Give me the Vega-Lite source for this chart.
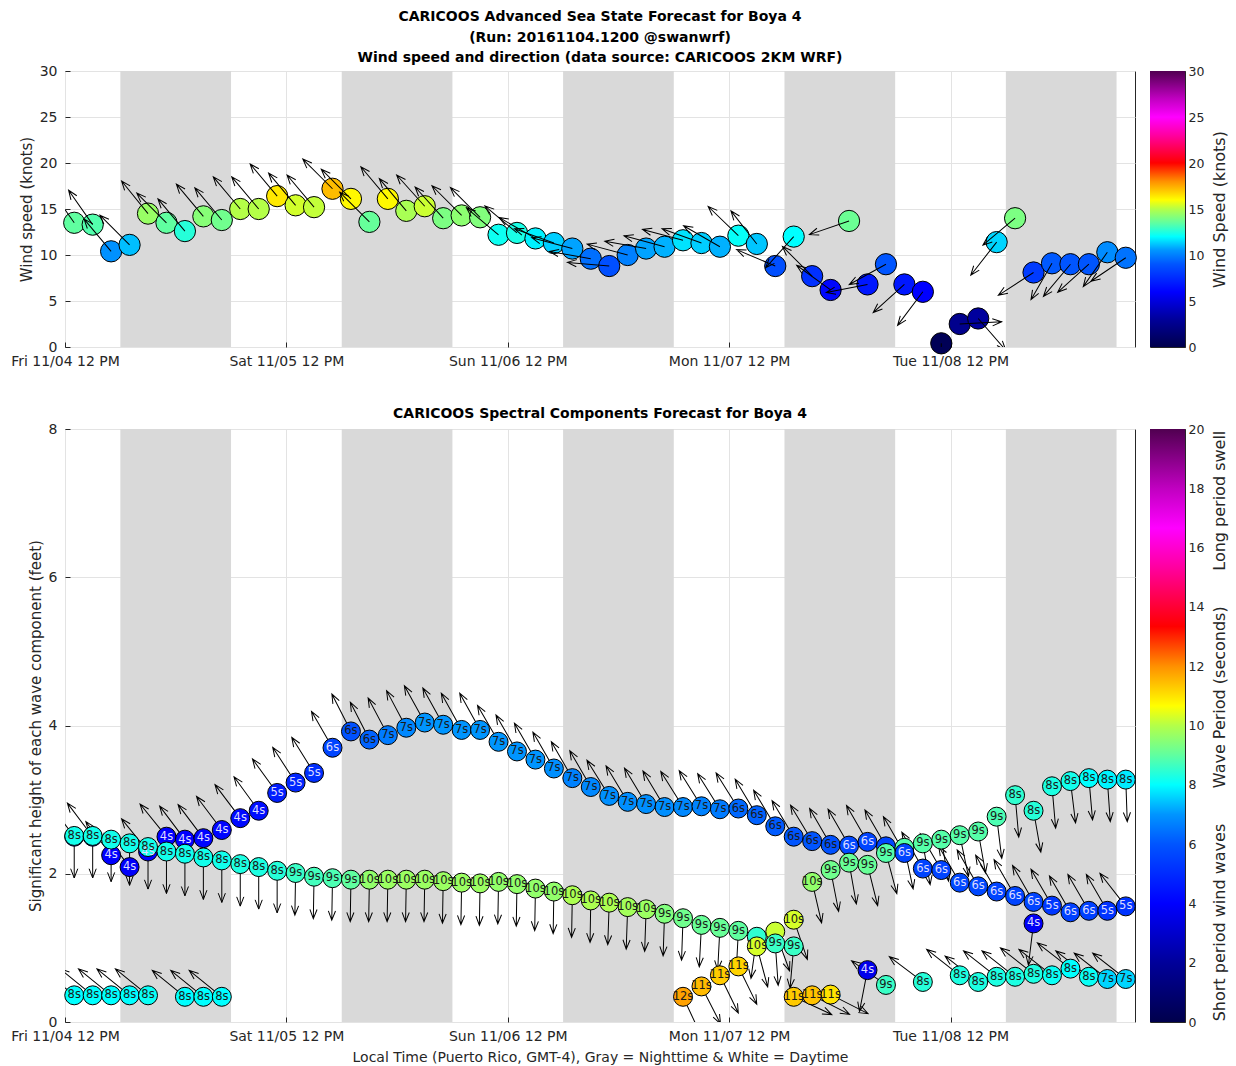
{
  "$schema": "https://vega.github.io/schema/vega-lite/v6.json",
  "background": "white",
  "padding": {"left": 10, "top": 9, "right": 2, "bottom": 2},
  "config": {
    "font": "DejaVu Sans",
    "view": {"stroke": "#262626", "strokeWidth": 1},
    "axis": {"labelFontSize": 14, "labelColor": "#262626", "titleFontSize": 15, "titleFontWeight": "normal", "titleColor": "#262626", "gridColor": "#e3e3e3", "gridWidth": 1, "domain": false, "tickColor": "#262626", "ticks": true, "tickSize": -5, "labelPadding": 13, "titlePadding": 5},
    "title": {"fontSize": 14, "fontWeight": "bold", "color": "#000000", "anchor": "middle", "frame": "group"}
  },
  "datasets": {
    "night": [
      {"t": "2016-11-04T18:00Z", "t2": "2016-11-05T06:00Z"},
      {"t": "2016-11-05T18:00Z", "t2": "2016-11-06T06:00Z"},
      {"t": "2016-11-06T18:00Z", "t2": "2016-11-07T06:00Z"},
      {"t": "2016-11-07T18:00Z", "t2": "2016-11-08T06:00Z"},
      {"t": "2016-11-08T18:00Z", "t2": "2016-11-09T06:00Z"}
    ],
    "wind": [
      {"t": "2016-11-04T13:00Z", "spd": 13.5, "dir": 325},
      {"t": "2016-11-04T15:00Z", "spd": 13.3, "dir": 325},
      {"t": "2016-11-04T17:00Z", "spd": 10.4, "dir": 320},
      {"t": "2016-11-04T19:00Z", "spd": 11.1, "dir": 315},
      {"t": "2016-11-04T21:00Z", "spd": 14.5, "dir": 321},
      {"t": "2016-11-04T23:00Z", "spd": 13.5, "dir": 315},
      {"t": "2016-11-05T01:00Z", "spd": 12.6, "dir": 320},
      {"t": "2016-11-05T03:00Z", "spd": 14.2, "dir": 320},
      {"t": "2016-11-05T05:00Z", "spd": 13.8, "dir": 320},
      {"t": "2016-11-05T07:00Z", "spd": 15.0, "dir": 320},
      {"t": "2016-11-05T09:00Z", "spd": 15.0, "dir": 320},
      {"t": "2016-11-05T11:00Z", "spd": 16.4, "dir": 320},
      {"t": "2016-11-05T13:00Z", "spd": 15.4, "dir": 320},
      {"t": "2016-11-05T15:00Z", "spd": 15.2, "dir": 320},
      {"t": "2016-11-05T17:00Z", "spd": 17.2, "dir": 315},
      {"t": "2016-11-05T19:00Z", "spd": 16.1, "dir": 315},
      {"t": "2016-11-05T21:00Z", "spd": 13.6, "dir": 315},
      {"t": "2016-11-05T23:00Z", "spd": 16.1, "dir": 320},
      {"t": "2016-11-06T01:00Z", "spd": 14.8, "dir": 320},
      {"t": "2016-11-06T03:00Z", "spd": 15.3, "dir": 318},
      {"t": "2016-11-06T05:00Z", "spd": 14.0, "dir": 318},
      {"t": "2016-11-06T07:00Z", "spd": 14.3, "dir": 315},
      {"t": "2016-11-06T09:00Z", "spd": 14.1, "dir": 315},
      {"t": "2016-11-06T11:00Z", "spd": 12.2, "dir": 310},
      {"t": "2016-11-06T13:00Z", "spd": 12.4, "dir": 310},
      {"t": "2016-11-06T15:00Z", "spd": 11.8, "dir": 300},
      {"t": "2016-11-06T17:00Z", "spd": 11.3, "dir": 290},
      {"t": "2016-11-06T19:00Z", "spd": 10.7, "dir": 285},
      {"t": "2016-11-06T21:00Z", "spd": 9.6, "dir": 280},
      {"t": "2016-11-06T23:00Z", "spd": 8.8, "dir": 275},
      {"t": "2016-11-07T01:00Z", "spd": 10.0, "dir": 285},
      {"t": "2016-11-07T03:00Z", "spd": 10.7, "dir": 280},
      {"t": "2016-11-07T05:00Z", "spd": 10.9, "dir": 285},
      {"t": "2016-11-07T07:00Z", "spd": 11.6, "dir": 285},
      {"t": "2016-11-07T09:00Z", "spd": 11.3, "dir": 290},
      {"t": "2016-11-07T11:00Z", "spd": 10.9, "dir": 300},
      {"t": "2016-11-07T13:00Z", "spd": 12.1, "dir": 314},
      {"t": "2016-11-07T15:00Z", "spd": 11.2, "dir": 322},
      {"t": "2016-11-07T17:00Z", "spd": 8.8, "dir": 293},
      {"t": "2016-11-07T19:00Z", "spd": 12.0, "dir": 222},
      {"t": "2016-11-07T21:00Z", "spd": 7.7, "dir": 315},
      {"t": "2016-11-07T23:00Z", "spd": 6.2, "dir": 306},
      {"t": "2016-11-08T01:00Z", "spd": 13.7, "dir": 251},
      {"t": "2016-11-08T03:00Z", "spd": 6.8, "dir": 259},
      {"t": "2016-11-08T05:00Z", "spd": 9.0, "dir": 241},
      {"t": "2016-11-08T07:00Z", "spd": 6.8, "dir": 228},
      {"t": "2016-11-08T09:00Z", "spd": 6.0, "dir": 217},
      {"t": "2016-11-08T11:00Z", "spd": 0.4, "dir": 180},
      {"t": "2016-11-08T13:00Z", "spd": 2.5, "dir": 87},
      {"t": "2016-11-08T15:00Z", "spd": 3.1, "dir": 139},
      {"t": "2016-11-08T17:00Z", "spd": 11.4, "dir": 218},
      {"t": "2016-11-08T19:00Z", "spd": 14.0, "dir": 230},
      {"t": "2016-11-08T21:00Z", "spd": 8.1, "dir": 237},
      {"t": "2016-11-08T23:00Z", "spd": 9.1, "dir": 210},
      {"t": "2016-11-09T01:00Z", "spd": 9.0, "dir": 220},
      {"t": "2016-11-09T03:00Z", "spd": 9.0, "dir": 228},
      {"t": "2016-11-09T05:00Z", "spd": 10.3, "dir": 215},
      {"t": "2016-11-09T07:00Z", "spd": 9.7, "dir": 236}
    ],
    "wave": [
      {"t": "2016-11-04T13:00Z", "h": 2.50, "per": 4.0, "lbl": "", "dir": 323},
      {"t": "2016-11-04T13:00Z", "h": 2.51, "per": 8.2, "lbl": "8s", "dir": 180},
      {"t": "2016-11-04T13:00Z", "h": 0.36, "per": 8.0, "lbl": "8s", "dir": 309},
      {"t": "2016-11-04T15:00Z", "h": 2.50, "per": 4.0, "lbl": "", "dir": 323},
      {"t": "2016-11-04T15:00Z", "h": 2.51, "per": 8.2, "lbl": "8s", "dir": 180},
      {"t": "2016-11-04T15:00Z", "h": 0.36, "per": 8.0, "lbl": "8s", "dir": 309},
      {"t": "2016-11-04T17:00Z", "h": 2.25, "per": 4.0, "lbl": "4s", "dir": 323},
      {"t": "2016-11-04T17:00Z", "h": 2.46, "per": 8.2, "lbl": "8s", "dir": 180},
      {"t": "2016-11-04T17:00Z", "h": 0.36, "per": 8.0, "lbl": "8s", "dir": 309},
      {"t": "2016-11-04T19:00Z", "h": 2.09, "per": 3.9, "lbl": "4s", "dir": 323},
      {"t": "2016-11-04T19:00Z", "h": 2.41, "per": 8.2, "lbl": "8s", "dir": 180},
      {"t": "2016-11-04T19:00Z", "h": 0.36, "per": 8.0, "lbl": "8s", "dir": 309},
      {"t": "2016-11-04T21:00Z", "h": 2.30, "per": 4.0, "lbl": "4s", "dir": 321},
      {"t": "2016-11-04T21:00Z", "h": 2.36, "per": 8.2, "lbl": "8s", "dir": 180},
      {"t": "2016-11-04T21:00Z", "h": 0.36, "per": 8.1, "lbl": "8s", "dir": 309},
      {"t": "2016-11-04T23:00Z", "h": 2.50, "per": 4.0, "lbl": "4s", "dir": 321},
      {"t": "2016-11-04T23:00Z", "h": 2.30, "per": 8.2, "lbl": "8s", "dir": 180},
      {"t": "2016-11-05T01:00Z", "h": 2.46, "per": 4.0, "lbl": "4s", "dir": 323},
      {"t": "2016-11-05T01:00Z", "h": 2.27, "per": 8.2, "lbl": "8s", "dir": 180},
      {"t": "2016-11-05T01:00Z", "h": 0.34, "per": 8.0, "lbl": "8s", "dir": 309},
      {"t": "2016-11-05T03:00Z", "h": 2.48, "per": 4.1, "lbl": "4s", "dir": 323},
      {"t": "2016-11-05T03:00Z", "h": 2.22, "per": 8.2, "lbl": "8s", "dir": 180},
      {"t": "2016-11-05T03:00Z", "h": 0.34, "per": 8.0, "lbl": "8s", "dir": 309},
      {"t": "2016-11-05T05:00Z", "h": 2.59, "per": 4.1, "lbl": "4s", "dir": 323},
      {"t": "2016-11-05T05:00Z", "h": 2.18, "per": 8.2, "lbl": "8s", "dir": 180},
      {"t": "2016-11-05T05:00Z", "h": 0.34, "per": 8.0, "lbl": "8s", "dir": 309},
      {"t": "2016-11-05T07:00Z", "h": 2.75, "per": 4.2, "lbl": "4s", "dir": 323},
      {"t": "2016-11-05T07:00Z", "h": 2.13, "per": 8.3, "lbl": "8s", "dir": 180},
      {"t": "2016-11-05T09:00Z", "h": 2.85, "per": 4.3, "lbl": "4s", "dir": 324},
      {"t": "2016-11-05T09:00Z", "h": 2.09, "per": 8.3, "lbl": "8s", "dir": 180},
      {"t": "2016-11-05T11:00Z", "h": 3.09, "per": 4.7, "lbl": "5s", "dir": 324},
      {"t": "2016-11-05T11:00Z", "h": 2.04, "per": 8.4, "lbl": "8s", "dir": 180},
      {"t": "2016-11-05T13:00Z", "h": 3.23, "per": 4.9, "lbl": "5s", "dir": 327},
      {"t": "2016-11-05T13:00Z", "h": 2.01, "per": 8.6, "lbl": "9s", "dir": 181},
      {"t": "2016-11-05T15:00Z", "h": 3.36, "per": 5.1, "lbl": "5s", "dir": 328},
      {"t": "2016-11-05T15:00Z", "h": 1.96, "per": 8.7, "lbl": "9s", "dir": 181},
      {"t": "2016-11-05T17:00Z", "h": 3.70, "per": 5.6, "lbl": "6s", "dir": 330},
      {"t": "2016-11-05T17:00Z", "h": 1.94, "per": 8.8, "lbl": "9s", "dir": 181},
      {"t": "2016-11-05T19:00Z", "h": 3.92, "per": 5.9, "lbl": "6s", "dir": 333},
      {"t": "2016-11-05T19:00Z", "h": 1.92, "per": 9.0, "lbl": "9s", "dir": 181},
      {"t": "2016-11-05T21:00Z", "h": 3.81, "per": 6.2, "lbl": "6s", "dir": 333},
      {"t": "2016-11-05T21:00Z", "h": 1.92, "per": 9.6, "lbl": "10s", "dir": 181},
      {"t": "2016-11-05T23:00Z", "h": 3.87, "per": 6.6, "lbl": "7s", "dir": 332},
      {"t": "2016-11-05T23:00Z", "h": 1.92, "per": 9.7, "lbl": "10s", "dir": 181},
      {"t": "2016-11-06T01:00Z", "h": 3.97, "per": 6.8, "lbl": "7s", "dir": 332},
      {"t": "2016-11-06T01:00Z", "h": 1.92, "per": 9.7, "lbl": "10s", "dir": 181},
      {"t": "2016-11-06T03:00Z", "h": 4.04, "per": 7.0, "lbl": "7s", "dir": 331},
      {"t": "2016-11-06T03:00Z", "h": 1.92, "per": 9.7, "lbl": "10s", "dir": 181},
      {"t": "2016-11-06T05:00Z", "h": 4.01, "per": 7.0, "lbl": "7s", "dir": 331},
      {"t": "2016-11-06T05:00Z", "h": 1.90, "per": 9.7, "lbl": "10s", "dir": 181},
      {"t": "2016-11-06T07:00Z", "h": 3.94, "per": 7.0, "lbl": "7s", "dir": 331},
      {"t": "2016-11-06T07:00Z", "h": 1.88, "per": 9.7, "lbl": "10s", "dir": 181},
      {"t": "2016-11-06T09:00Z", "h": 3.94, "per": 7.0, "lbl": "7s", "dir": 331},
      {"t": "2016-11-06T09:00Z", "h": 1.87, "per": 9.7, "lbl": "10s", "dir": 181},
      {"t": "2016-11-06T11:00Z", "h": 3.78, "per": 7.0, "lbl": "7s", "dir": 330},
      {"t": "2016-11-06T11:00Z", "h": 1.89, "per": 9.6, "lbl": "10s", "dir": 181},
      {"t": "2016-11-06T13:00Z", "h": 3.65, "per": 7.0, "lbl": "7s", "dir": 330},
      {"t": "2016-11-06T13:00Z", "h": 1.86, "per": 9.6, "lbl": "10s", "dir": 181},
      {"t": "2016-11-06T15:00Z", "h": 3.54, "per": 7.0, "lbl": "7s", "dir": 330},
      {"t": "2016-11-06T15:00Z", "h": 1.80, "per": 9.6, "lbl": "10s", "dir": 181},
      {"t": "2016-11-06T17:00Z", "h": 3.42, "per": 6.9, "lbl": "7s", "dir": 330},
      {"t": "2016-11-06T17:00Z", "h": 1.76, "per": 9.6, "lbl": "10s", "dir": 181},
      {"t": "2016-11-06T19:00Z", "h": 3.29, "per": 6.7, "lbl": "7s", "dir": 330},
      {"t": "2016-11-06T19:00Z", "h": 1.71, "per": 9.9, "lbl": "10s", "dir": 181},
      {"t": "2016-11-06T21:00Z", "h": 3.17, "per": 6.8, "lbl": "7s", "dir": 330},
      {"t": "2016-11-06T21:00Z", "h": 1.64, "per": 9.9, "lbl": "10s", "dir": 181},
      {"t": "2016-11-06T23:00Z", "h": 3.05, "per": 6.9, "lbl": "7s", "dir": 328},
      {"t": "2016-11-06T23:00Z", "h": 1.61, "per": 9.9, "lbl": "10s", "dir": 182},
      {"t": "2016-11-07T01:00Z", "h": 2.97, "per": 6.9, "lbl": "7s", "dir": 329},
      {"t": "2016-11-07T01:00Z", "h": 1.55, "per": 9.8, "lbl": "10s", "dir": 182},
      {"t": "2016-11-07T03:00Z", "h": 2.94, "per": 6.9, "lbl": "7s", "dir": 329},
      {"t": "2016-11-07T03:00Z", "h": 1.52, "per": 9.7, "lbl": "10s", "dir": 182},
      {"t": "2016-11-07T05:00Z", "h": 2.90, "per": 6.9, "lbl": "7s", "dir": 329},
      {"t": "2016-11-07T05:00Z", "h": 1.46, "per": 9.4, "lbl": "9s", "dir": 182},
      {"t": "2016-11-07T07:00Z", "h": 2.90, "per": 6.8, "lbl": "7s", "dir": 328},
      {"t": "2016-11-07T07:00Z", "h": 1.40, "per": 9.2, "lbl": "9s", "dir": 182},
      {"t": "2016-11-07T07:00Z", "h": 0.34, "per": 11.8, "lbl": "12s", "dir": 155},
      {"t": "2016-11-07T09:00Z", "h": 2.91, "per": 6.7, "lbl": "7s", "dir": 328},
      {"t": "2016-11-07T09:00Z", "h": 1.31, "per": 9.1, "lbl": "9s", "dir": 183},
      {"t": "2016-11-07T09:00Z", "h": 0.48, "per": 11.5, "lbl": "11s", "dir": 153},
      {"t": "2016-11-07T11:00Z", "h": 2.87, "per": 6.6, "lbl": "7s", "dir": 328},
      {"t": "2016-11-07T11:00Z", "h": 1.27, "per": 9.1, "lbl": "9s", "dir": 183},
      {"t": "2016-11-07T11:00Z", "h": 0.63, "per": 11.3, "lbl": "11s", "dir": 154},
      {"t": "2016-11-07T13:00Z", "h": 2.88, "per": 6.3, "lbl": "6s", "dir": 328},
      {"t": "2016-11-07T13:00Z", "h": 1.23, "per": 9.0, "lbl": "9s", "dir": 183},
      {"t": "2016-11-07T13:00Z", "h": 0.75, "per": 11.2, "lbl": "11s", "dir": 154},
      {"t": "2016-11-07T15:00Z", "h": 2.79, "per": 6.2, "lbl": "6s", "dir": 329},
      {"t": "2016-11-07T15:00Z", "h": 1.15, "per": 8.5, "lbl": "", "dir": 188},
      {"t": "2016-11-07T15:00Z", "h": 1.02, "per": 10.3, "lbl": "10s", "dir": 165},
      {"t": "2016-11-07T17:00Z", "h": 2.64, "per": 6.1, "lbl": "6s", "dir": 329},
      {"t": "2016-11-07T17:00Z", "h": 1.22, "per": 10.2, "lbl": "", "dir": 160},
      {"t": "2016-11-07T17:00Z", "h": 1.06, "per": 8.6, "lbl": "9s", "dir": 176},
      {"t": "2016-11-07T19:00Z", "h": 2.50, "per": 6.0, "lbl": "6s", "dir": 329},
      {"t": "2016-11-07T19:00Z", "h": 1.02, "per": 8.6, "lbl": "9s", "dir": 185},
      {"t": "2016-11-07T19:00Z", "h": 1.38, "per": 10.3, "lbl": "10s", "dir": 161},
      {"t": "2016-11-07T19:00Z", "h": 0.34, "per": 11.3, "lbl": "11s", "dir": 115},
      {"t": "2016-11-07T21:00Z", "h": 2.44, "per": 6.0, "lbl": "6s", "dir": 329},
      {"t": "2016-11-07T21:00Z", "h": 1.89, "per": 9.6, "lbl": "10s", "dir": 167},
      {"t": "2016-11-07T21:00Z", "h": 0.36, "per": 11.4, "lbl": "11s", "dir": 117},
      {"t": "2016-11-07T23:00Z", "h": 2.39, "per": 5.9, "lbl": "6s", "dir": 330},
      {"t": "2016-11-07T23:00Z", "h": 2.05, "per": 9.2, "lbl": "9s", "dir": 169},
      {"t": "2016-11-07T23:00Z", "h": 0.37, "per": 11.0, "lbl": "11s", "dir": 117},
      {"t": "2016-11-08T01:00Z", "h": 2.38, "per": 5.7, "lbl": "6s", "dir": 330},
      {"t": "2016-11-08T01:00Z", "h": 2.15, "per": 9.1, "lbl": "9s", "dir": 170},
      {"t": "2016-11-08T03:00Z", "h": 2.43, "per": 5.6, "lbl": "6s", "dir": 330},
      {"t": "2016-11-08T03:00Z", "h": 2.12, "per": 9.1, "lbl": "9s", "dir": 166},
      {"t": "2016-11-08T03:00Z", "h": 0.70, "per": 3.6, "lbl": "4s", "dir": 191},
      {"t": "2016-11-08T05:00Z", "h": 2.37, "per": 5.6, "lbl": "", "dir": 330},
      {"t": "2016-11-08T05:00Z", "h": 2.28, "per": 8.9, "lbl": "9s", "dir": 165},
      {"t": "2016-11-08T05:00Z", "h": 0.50, "per": 8.6, "lbl": "9s", "dir": 305},
      {"t": "2016-11-08T07:00Z", "h": 2.35, "per": 8.9, "lbl": "", "dir": 168},
      {"t": "2016-11-08T07:00Z", "h": 2.28, "per": 5.6, "lbl": "6s", "dir": 330},
      {"t": "2016-11-08T09:00Z", "h": 2.07, "per": 5.6, "lbl": "6s", "dir": 330},
      {"t": "2016-11-08T09:00Z", "h": 2.41, "per": 8.9, "lbl": "9s", "dir": 170},
      {"t": "2016-11-08T09:00Z", "h": 0.54, "per": 8.4, "lbl": "8s", "dir": 307},
      {"t": "2016-11-08T11:00Z", "h": 2.05, "per": 5.6, "lbl": "6s", "dir": 330},
      {"t": "2016-11-08T11:00Z", "h": 2.46, "per": 8.9, "lbl": "9s", "dir": 170},
      {"t": "2016-11-08T13:00Z", "h": 1.88, "per": 5.7, "lbl": "6s", "dir": 330},
      {"t": "2016-11-08T13:00Z", "h": 2.52, "per": 8.9, "lbl": "9s", "dir": 168},
      {"t": "2016-11-08T13:00Z", "h": 0.63, "per": 8.3, "lbl": "8s", "dir": 308},
      {"t": "2016-11-08T15:00Z", "h": 1.83, "per": 5.7, "lbl": "6s", "dir": 330},
      {"t": "2016-11-08T15:00Z", "h": 2.57, "per": 8.9, "lbl": "9s", "dir": 170},
      {"t": "2016-11-08T15:00Z", "h": 0.54, "per": 8.3, "lbl": "8s", "dir": 308},
      {"t": "2016-11-08T17:00Z", "h": 1.76, "per": 5.6, "lbl": "6s", "dir": 330},
      {"t": "2016-11-08T17:00Z", "h": 2.77, "per": 8.8, "lbl": "9s", "dir": 173},
      {"t": "2016-11-08T17:00Z", "h": 0.61, "per": 8.3, "lbl": "8s", "dir": 308},
      {"t": "2016-11-08T19:00Z", "h": 1.70, "per": 5.6, "lbl": "6s", "dir": 330},
      {"t": "2016-11-08T19:00Z", "h": 3.06, "per": 8.5, "lbl": "8s", "dir": 175},
      {"t": "2016-11-08T19:00Z", "h": 0.61, "per": 8.3, "lbl": "8s", "dir": 308},
      {"t": "2016-11-08T21:00Z", "h": 1.33, "per": 3.8, "lbl": "4s", "dir": 187},
      {"t": "2016-11-08T21:00Z", "h": 1.62, "per": 5.6, "lbl": "6s", "dir": 330},
      {"t": "2016-11-08T21:00Z", "h": 2.85, "per": 8.4, "lbl": "8s", "dir": 170},
      {"t": "2016-11-08T21:00Z", "h": 0.65, "per": 8.3, "lbl": "8s", "dir": 308},
      {"t": "2016-11-08T23:00Z", "h": 1.57, "per": 5.3, "lbl": "5s", "dir": 330},
      {"t": "2016-11-08T23:00Z", "h": 3.18, "per": 8.3, "lbl": "8s", "dir": 175},
      {"t": "2016-11-08T23:00Z", "h": 0.63, "per": 8.1, "lbl": "8s", "dir": 308},
      {"t": "2016-11-09T01:00Z", "h": 1.48, "per": 5.5, "lbl": "6s", "dir": 330},
      {"t": "2016-11-09T01:00Z", "h": 3.25, "per": 8.2, "lbl": "8s", "dir": 173},
      {"t": "2016-11-09T01:00Z", "h": 0.72, "per": 8.0, "lbl": "8s", "dir": 308},
      {"t": "2016-11-09T03:00Z", "h": 1.50, "per": 5.5, "lbl": "6s", "dir": 330},
      {"t": "2016-11-09T03:00Z", "h": 3.29, "per": 8.0, "lbl": "8s", "dir": 175},
      {"t": "2016-11-09T03:00Z", "h": 0.61, "per": 8.1, "lbl": "8s", "dir": 308},
      {"t": "2016-11-09T05:00Z", "h": 1.50, "per": 5.2, "lbl": "5s", "dir": 330},
      {"t": "2016-11-09T05:00Z", "h": 3.27, "per": 7.9, "lbl": "8s", "dir": 176},
      {"t": "2016-11-09T05:00Z", "h": 0.58, "per": 7.6, "lbl": "7s", "dir": 308},
      {"t": "2016-11-09T07:00Z", "h": 1.56, "per": 5.2, "lbl": "5s", "dir": 322},
      {"t": "2016-11-09T07:00Z", "h": 3.27, "per": 7.8, "lbl": "8s", "dir": 178},
      {"t": "2016-11-09T07:00Z", "h": 0.58, "per": 7.6, "lbl": "7s", "dir": 308}
    ]
  },
  "columns": 2,
  "align": "each",
  "spacing": {"column": 10, "row": 37},
  "resolve": {"scale": {"color": "independent", "y": "independent", "x": "independent"}},
  "concat": [
    {
      "width": 1070,
      "height": 276,
      "title": {"text": ["CARICOOS Advanced Sea State Forecast for Boya 4", "(Run: 20161104.1200 @swanwrf)", "Wind speed and direction (data source: CARICOOS 2KM WRF)"], "lineHeight": 20.5, "offset": -1},
      "encoding": {
        "x": {
          "field": "t", "type": "temporal",
          "scale": {"type": "utc", "nice": false, "domain": [{"year": 2016, "month": "nov", "date": 4, "hours": 12, "utc": true}, {"year": 2016, "month": "nov", "date": 9, "hours": 8, "utc": true}]},
          "axis": {"title": null, "labelExpr": "utcFormat(datum.value, '%a %m/%d %I %p')", "labelFlush": false, "labelPadding": 12,
            "values": [{"year": 2016, "month": "nov", "date": 4, "hours": 12, "utc": true}, {"year": 2016, "month": "nov", "date": 5, "hours": 12, "utc": true}, {"year": 2016, "month": "nov", "date": 6, "hours": 12, "utc": true}, {"year": 2016, "month": "nov", "date": 7, "hours": 12, "utc": true}, {"year": 2016, "month": "nov", "date": 8, "hours": 12, "utc": true}]}
        }
      },
      "layer": [
        {"data": {"name": "night"}, "mark": {"type": "rect", "fill": "#d9d9d9"}, "encoding": {"x2": {"field": "t2"}}},
        {"data": {"name": "wind"},
         "mark": {"type": "point", "shape": "circle", "filled": true, "size": 452, "stroke": "#000000", "strokeWidth": 1, "opacity": 1},
         "encoding": {
           "y": {"field": "spd", "type": "quantitative", "scale": {"domain": [0, 30], "nice": false}, "axis": {"values": [0, 5, 10, 15, 20, 25, 30], "format": "d", "title": "Wind speed (knots)"}},
           "color": {"field": "spd", "type": "quantitative", "legend": null,
             "scale": {"domain": [0, 3, 6, 9, 10.5, 12, 13.5, 15, 16, 18, 20, 23, 25, 27, 30], "range": ["#00004c", "#00009a", "#0000ff", "#0055ff", "#0095ff", "#00ffff", "#60ffa0", "#b4ff48", "#ffff00", "#ff9000", "#ff0000", "#ff00a0", "#ff00ff", "#c000c0", "#500050"], "interpolate": "rgb"}}
         }},
        {"data": {"name": "wind"},
         "mark": {"type": "point", "shape": "M0,0L0,-1M-0.085,-0.78L0,-1L0.085,-0.78", "filled": false, "color": "#000000", "stroke": "#000000", "strokeWidth": 1, "size": 7056, "opacity": 1, "clip": true},
         "encoding": {
           "y": {"field": "spd", "type": "quantitative"},
           "angle": {"field": "dir", "type": "quantitative", "scale": {"domain": [0, 360], "range": [0, 360]}}
         }}
      ]
    },
    {
      "width": 35,
      "height": 276,
      "data": {"values": [{"lo": 0, "hi": 30}]},
      "mark": {"type": "rect", "fill": {"gradient": "linear", "x1": 0, "y1": 1, "x2": 0, "y2": 0, "stops": [{"offset": 0, "color": "#00004c"}, {"offset": 0.1, "color": "#00009a"}, {"offset": 0.2, "color": "#0000ff"}, {"offset": 0.3, "color": "#0055ff"}, {"offset": 0.35, "color": "#0095ff"}, {"offset": 0.4, "color": "#00ffff"}, {"offset": 0.45, "color": "#60ffa0"}, {"offset": 0.5, "color": "#b4ff48"}, {"offset": 0.533, "color": "#ffff00"}, {"offset": 0.6, "color": "#ff9000"}, {"offset": 0.667, "color": "#ff0000"}, {"offset": 0.767, "color": "#ff00a0"}, {"offset": 0.833, "color": "#ff00ff"}, {"offset": 0.9, "color": "#c000c0"}, {"offset": 1, "color": "#500050"}]}},
      "encoding": {
        "y": {"field": "lo", "type": "quantitative", "scale": {"domain": [0, 30], "nice": false},
          "axis": {"orient": "right", "values": [0, 5, 10, 15, 20, 25, 30], "format": "d", "title": "Wind Speed (knots)", "titleAngle": 270, "titleBaseline": "top", "titleFontSize": 16, "labelFontSize": 12.5, "grid": false, "labelPadding": 8, "titlePadding": 8}},
        "y2": {"field": "hi"}
      }
    },
    {
      "width": 1070,
      "height": 593,
      "title": {"text": "CARICOOS Spectral Components Forecast for Boya 4", "offset": 1},
      "encoding": {
        "x": {
          "field": "t", "type": "temporal",
          "scale": {"type": "utc", "nice": false, "domain": [{"year": 2016, "month": "nov", "date": 4, "hours": 12, "utc": true}, {"year": 2016, "month": "nov", "date": 9, "hours": 8, "utc": true}]},
          "axis": {"title": "Local Time (Puerto Rico, GMT-4), Gray = Nighttime & White = Daytime", "titleFontSize": 14, "titlePadding": 7, "labelExpr": "utcFormat(datum.value, '%a %m/%d %I %p')", "labelFlush": false, "labelPadding": 12,
            "values": [{"year": 2016, "month": "nov", "date": 4, "hours": 12, "utc": true}, {"year": 2016, "month": "nov", "date": 5, "hours": 12, "utc": true}, {"year": 2016, "month": "nov", "date": 6, "hours": 12, "utc": true}, {"year": 2016, "month": "nov", "date": 7, "hours": 12, "utc": true}, {"year": 2016, "month": "nov", "date": 8, "hours": 12, "utc": true}]}
        }
      },
      "layer": [
        {"data": {"name": "night"}, "mark": {"type": "rect", "fill": "#d9d9d9"}, "encoding": {"x2": {"field": "t2"}}},
        {"data": {"name": "wave"},
         "mark": {"type": "point", "shape": "M0,0L0,-1M-0.085,-0.78L0,-1L0.085,-0.78", "filled": false, "color": "#000000", "stroke": "#000000", "strokeWidth": 1, "size": 7056, "opacity": 1, "clip": true},
         "encoding": {
           "y": {"field": "h", "type": "quantitative"},
           "angle": {"field": "dir", "type": "quantitative", "scale": {"domain": [0, 360], "range": [0, 360]}}
         }},
        {"data": {"name": "wave"},
         "mark": {"type": "point", "shape": "circle", "filled": true, "size": 360, "stroke": "#000000", "strokeWidth": 1, "opacity": 1},
         "encoding": {
           "y": {"field": "h", "type": "quantitative", "scale": {"domain": [0, 8], "nice": false}, "axis": {"values": [0, 2, 4, 6, 8], "format": "d", "title": "Significant height of each wave component (feet)"}},
           "color": {"field": "per", "type": "quantitative", "legend": null,
             "scale": {"domain": [0, 2, 4, 6, 7, 8, 9, 10, 10.67, 12, 13.33, 15.33, 16.67, 18, 20], "range": ["#00004c", "#00009a", "#0000ff", "#0055ff", "#0095ff", "#00ffff", "#60ffa0", "#b4ff48", "#ffff00", "#ff9000", "#ff0000", "#ff00a0", "#ff00ff", "#c000c0", "#500050"], "interpolate": "rgb"}}
         }},
        {"data": {"name": "wave"},
         "mark": {"type": "text", "fontSize": 11.5, "align": "center", "baseline": "middle"},
         "encoding": {
           "y": {"field": "h", "type": "quantitative"},
           "text": {"field": "lbl", "type": "nominal"},
           "color": {"condition": {"test": "datum.per < 5.8", "value": "#dcdcff"}, "value": "#1a1a1a"}
         }}
      ]
    },
    {
      "width": 35,
      "height": 593,
      "data": {"values": [{"lo": 0, "hi": 20}]},
      "mark": {"type": "rect", "fill": {"gradient": "linear", "x1": 0, "y1": 1, "x2": 0, "y2": 0, "stops": [{"offset": 0, "color": "#00004c"}, {"offset": 0.1, "color": "#00009a"}, {"offset": 0.2, "color": "#0000ff"}, {"offset": 0.3, "color": "#0055ff"}, {"offset": 0.35, "color": "#0095ff"}, {"offset": 0.4, "color": "#00ffff"}, {"offset": 0.45, "color": "#60ffa0"}, {"offset": 0.5, "color": "#b4ff48"}, {"offset": 0.533, "color": "#ffff00"}, {"offset": 0.6, "color": "#ff9000"}, {"offset": 0.667, "color": "#ff0000"}, {"offset": 0.767, "color": "#ff00a0"}, {"offset": 0.833, "color": "#ff00ff"}, {"offset": 0.9, "color": "#c000c0"}, {"offset": 1, "color": "#500050"}]}},
      "encoding": {
        "y": {"field": "lo", "type": "quantitative", "scale": {"domain": [0, 20], "nice": false},
          "axis": {"orient": "right", "values": [0, 2, 4, 6, 8, 10, 12, 14, 16, 18, 20], "format": "d", "title": "Short period wind waves\u00a0\u00a0\u00a0\u00a0\u00a0\u00a0\u00a0Wave Period (seconds)\u00a0\u00a0\u00a0\u00a0\u00a0\u00a0\u00a0Long period swell", "titleAngle": 270, "titleBaseline": "top", "titleFontSize": 16, "labelFontSize": 12.5, "grid": false, "labelPadding": 8, "titlePadding": 8}},
        "y2": {"field": "hi"}
      }
    }
  ]
}
